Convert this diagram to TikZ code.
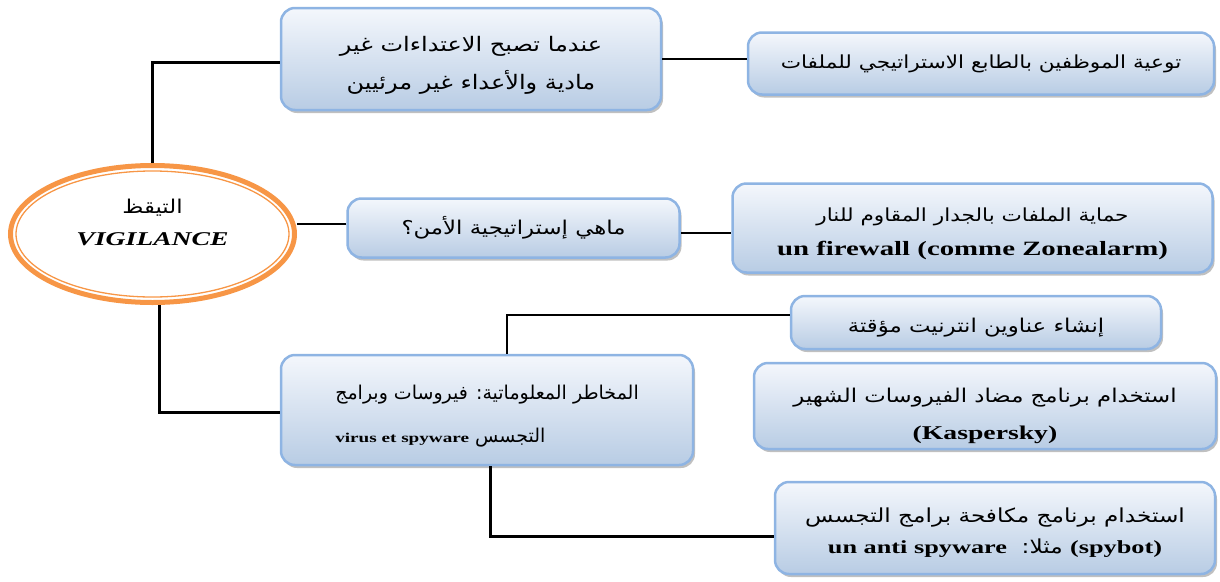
\documentclass[tikz,border=0pt]{standalone}
\usepackage{fontspec}
\usetikzlibrary{shapes.geometric,shadows}
\TeXXeTstate=1
\setmainfont{Liberation Serif}[FakeStretch=1.42]
\newfontfamily\arabicfont[Script=Arabic,FakeStretch=1.2]{DejaVu Sans}
\newfontfamily\arabicnarrow[Script=Arabic]{DejaVu Sans}
\definecolor{ringorange}{HTML}{F79646}
\definecolor{boxedge}{HTML}{8EB4E3}
\definecolor{boxtop}{HTML}{F4F7FC}
\definecolor{boxbottom}{HTML}{B8CCE4}
% right-to-left Arabic line, and a bold left-to-right run inside it
\newcommand\arline[1]{{\beginR #1\endR}}
\newcommand\ltrbold[2]{{\normalfont\bfseries\fontsize{#1}{#1}\selectfont\beginL #2\endL}}
\newcommand\arsize[2]{\arabicfont\fontsize{#1}{#2}\selectfont}
\newcommand\arnarrowsize[2]{\arabicnarrow\fontsize{#1}{#2}\selectfont}
% invisible strut that lowers a text block inside its box
\newcommand\lowerby[1]{\rule{0pt}{#1}}
\tikzset{
  box/.style={draw=boxedge, line width=2.5pt, rounded corners=14pt,
    top color=boxtop, bottom color=boxbottom, inner sep=0pt, align=center,
    drop shadow={shadow xshift=2pt, shadow yshift=-3pt, fill=black!45, opacity=0.55}},
  ring/.style={ellipse, draw=ringorange, line width=5pt, inner sep=0pt,
    minimum width=284pt, minimum height=137pt},
  conn/.style={draw=black, line width=2.2pt}
}
\begin{document}
\begin{tikzpicture}[x=1pt, y=-1pt]
\useasboundingbox (0,0) rectangle (1220,581);

% central ellipse with its double orange ring
\node[ring] (e) at (152.5,234) {};
\draw[ringorange, line width=1.3pt] (e.center) ellipse (136.5pt and 63pt);
\node[align=center, inner sep=0pt, font=\arsize{19}{32}] (etext) at (152.5,222) {%
  \arline{التيقظ}\\
  {\normalfont\bfseries\itshape\fontsize{19.5}{24}\selectfont VIGILANCE}};

% first level
\node[box, minimum width=380pt, minimum height=102pt, font=\arsize{20}{38}] (b1) at (471,59) {%
  \lowerby{27pt}\arline{عندما تصبح الاعتداءات غير}\\
  \arline{مادية والأعداء غير مرئيين}};
\node[box, minimum width=332pt, minimum height=59pt, font=\arsize{19}{24}] (b2) at (513.5,228) {%
  \arline{ماهي إستراتيجية الأمن؟}};
\node[box, align=left, minimum width=412pt, minimum height=110pt, font=\arnarrowsize{19}{43}] (b3) at (487,410) {%
  \lowerby{26pt}\arline{المخاطر المعلوماتية: فيروسات وبرامج}\\
  \arline{التجسس \ltrbold{13.5}{virus et spyware}}};

% second level
\node[box, minimum width=466pt, minimum height=62pt, font=\arsize{18}{24}] (t1) at (981,63.5) {%
  \arline{توعية الموظفين بالطابع الاستراتيجي للملفات}};
\node[box, minimum width=480pt, minimum height=89pt, font=\arsize{18}{34}] (t2) at (972.5,228) {%
  \lowerby{26pt}\arline{حماية الملفات بالجدار المقاوم للنار}\\
  \ltrbold{20.3}{un firewall (comme Zonealarm)}};
\node[box, minimum width=370pt, minimum height=53pt, font=\arsize{19}{24}] (t3) at (976,322.5) {%
  \lowerby{24pt}\arline{إنشاء عناوين انترنيت مؤقتة}};
\node[box, minimum width=462pt, minimum height=86pt, font=\arsize{19}{37}] (t4) at (985,406) {%
  \lowerby{34pt}\arline{استخدام برنامج مضاد الفيروسات الشهير}\\
  \ltrbold{19.5}{(Kaspersky)}};
\node[box, minimum width=440pt, minimum height=92pt, font=\arsize{19.3}{31}] (t5) at (995,528) {%
  \lowerby{24pt}\arline{استخدام برنامج مكافحة برامج التجسس}\\
  \arline{\ltrbold{18.5}{(spybot)} مثلا:\ \ \ltrbold{18.5}{un anti spyware}}};

% connectors
\coordinate (b1in) at ([yshift=-3pt]b1.west);
\coordinate (b2in) at ([yshift=4pt]b2.west);
\coordinate (b2out) at ([yshift=-5pt]b2.east);
\coordinate (b3in) at ([yshift=-2pt]b3.west);
\coordinate (b3up) at ([xshift=20pt]b3.north);
\coordinate (b3down) at ([xshift=3pt]b3.south);
\coordinate (t3in) at ([yshift=7.5pt]t3.west);
\coordinate (t5in) at ([yshift=-8pt]t5.west);
\coordinate (esouth) at ([xshift=7pt]e.south);

\draw[conn, line width=3pt] (e.north) |- (b1in);
\draw[conn] (b2in) -- (b2in -| e.east);
\draw[conn, line width=3pt] (esouth) |- (b3in);
\draw[conn] (b1.east) -- (b1.east -| t1.west);
\draw[conn] (b2out) -- (b2out -| t2.west);
\draw[conn] (b3up) |- (t3in);
\draw[conn, line width=3pt] (b3down) |- (t5in);
\end{tikzpicture}
\end{document}
